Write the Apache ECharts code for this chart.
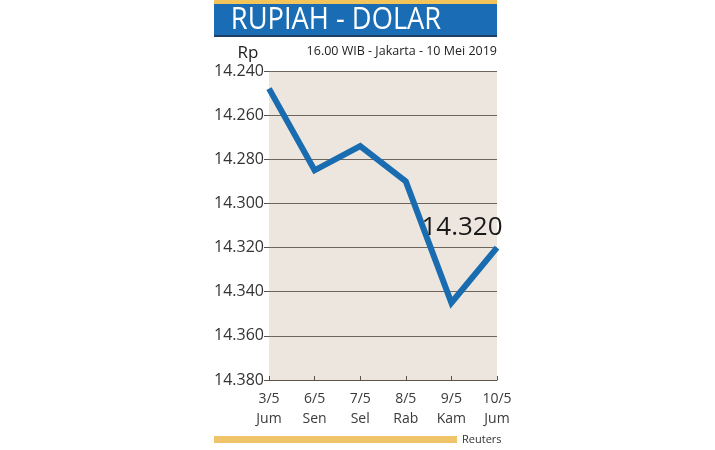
<!DOCTYPE html>
<html><head><meta charset="utf-8">
<script src="https://cdn.jsdelivr.net/npm/echarts@6/dist/echarts.min.js"></script>
<style>html,body{margin:0;padding:0;background:#fff}#c{width:715px;height:450px}</style>
</head><body><div id="c"></div>
<script>
const dates = ['3/5','6/5','7/5','8/5','9/5','10/5'];
const days = ['Jum','Sen','Sel','Rab','Kam','Jum'];
const rates = [14248, 14285, 14274, 14290, 14345, 14320];
const yTicks = [14240, 14260, 14280, 14300, 14320, 14340, 14360, 14380];
const title = 'RUPIAH - DOLAR';
const subtitle = '16.00 WIB - Jakarta - 10 Mei 2019';
const unit = 'Rp';
const source = 'Reuters';

const fmt = v => (v/1000).toFixed(3);
const chart = echarts.init(document.getElementById('c'), null, {renderer:'canvas'});
const cats = dates.map((d,i)=>d+'\n'+days[i]);
const last = rates.length-1;
chart.setOption({
  animation:false,
  textStyle:{fontFamily:'Open Sans'},
  grid:{left:269,right:218,top:71,bottom:70,show:true,backgroundColor:'#ede6de',borderWidth:0},
  xAxis:{type:'category',data:cats,boundaryGap:false,
    axisLine:{lineStyle:{color:'#5a524b',width:1}},
    axisTick:{inside:true,length:4,lineStyle:{color:'#5a524b'}},
    axisLabel:{color:'#3a3a3a',fontSize:14,lineHeight:20,margin:9,fontFamily:'Open Sans'}},
  yAxis:{type:'value',inverse:true,min:yTicks[0],max:yTicks[yTicks.length-1],interval:20,
    axisLine:{show:false},
    axisTick:{show:true,length:5,lineStyle:{color:'#5a524b'}},
    splitLine:{lineStyle:{color:'#6e655c',width:1}},
    axisLabel:{color:'#333',fontSize:16,margin:5,formatter:fmt,fontFamily:'Open Sans'}},
  series:[{type:'line',
    data:rates.map((v,i)=>i===last?{value:v,label:{show:true}}:v),
    symbol:'circle',symbolSize:1,showSymbol:true,itemStyle:{color:'rgba(0,0,0,0)',borderWidth:0},
    lineStyle:{color:'#1a6cb1',width:6,join:'miter'},
    label:{show:false,position:'top',offset:[-35,-1],formatter:p=>fmt(p.value),fontSize:26,color:'#1a1a1a',fontFamily:'Open Sans'}}],
  graphic:[
    {type:'rect',shape:{x:214,y:0,width:283,height:4},style:{fill:'#f2c45a'}},
    {type:'rect',shape:{x:214,y:4,width:283,height:32},style:{fill:'#1a6db5'}},
    {type:'rect',shape:{x:214,y:35,width:283,height:2},style:{fill:'#1d3f63'}},
    {type:'text',x:336,y:20,style:{text:title,fill:'#fff',font:'31px "Open Sans"',textAlign:'center',textVerticalAlign:'middle'},scaleX:0.88},
    {type:'text',x:248,y:53,style:{text:unit,fill:'#222',font:'17px "Open Sans"',textAlign:'center',textVerticalAlign:'middle'}},
    {type:'text',x:497,y:51,style:{text:subtitle,fill:'#222',font:'12.5px "Open Sans"',textAlign:'right',textVerticalAlign:'middle'}},
    {type:'rect',shape:{x:214,y:436,width:243,height:7},style:{fill:'#f0c468'}},
    {type:'text',x:462,y:440,style:{text:source,fill:'#333',font:'11px "Open Sans"',textAlign:'left',textVerticalAlign:'middle'}}
  ]
});
</script></body></html>
